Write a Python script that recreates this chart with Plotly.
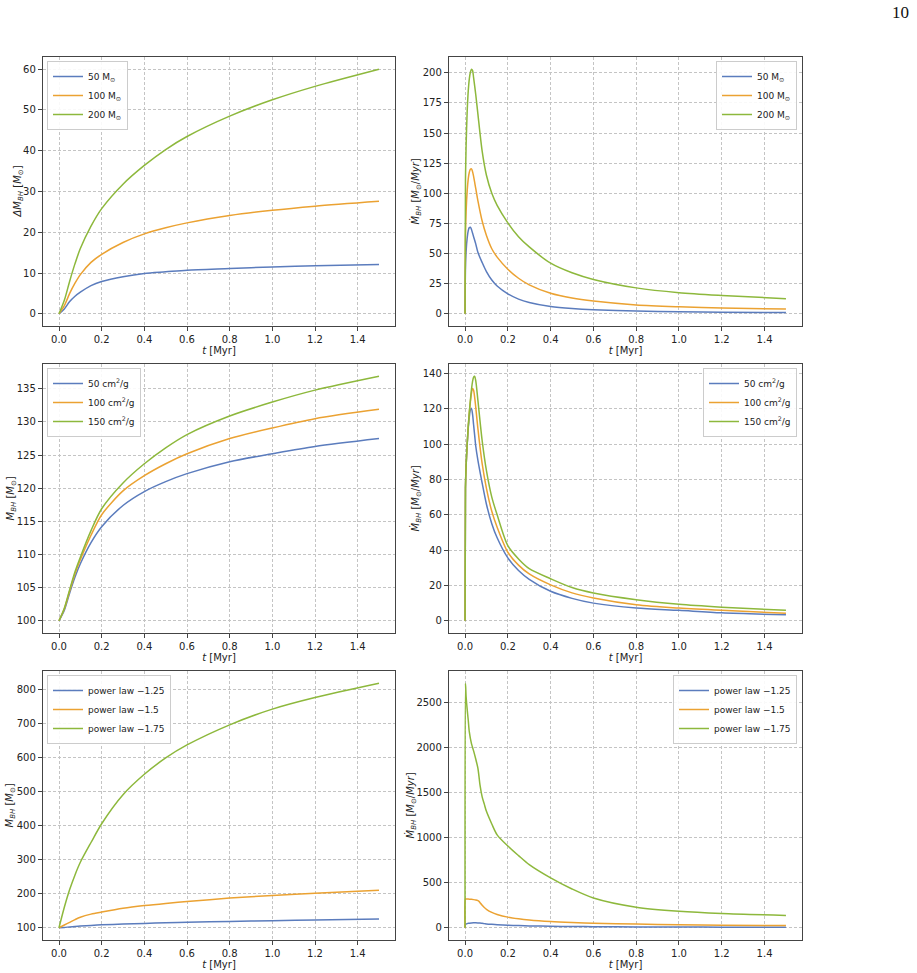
import plotly.graph_objects as go

# ---------------- data ----------------
names_mass = ["50 M<sub>⊙</sub>", "100 M<sub>⊙</sub>", "200 M<sub>⊙</sub>"]
names_xs = ["50 cm<sup>2</sup>/g", "100 cm<sup>2</sup>/g", "150 cm<sup>2</sup>/g"]
names_pl = ["power law −1.25", "power law −1.5", "power law −1.75"]

# Panel 1: Delta M_BH vs t (BH mass variations)
t_p1 = [0, 0.025, 0.05, 0.075, 0.1, 0.15, 0.2, 0.3, 0.4, 0.5, 0.6, 0.8, 1.0, 1.2, 1.5]
dm_50 = [0, 1.2, 3.0, 4.3, 5.3, 6.9, 7.9, 9.1, 9.9, 10.3, 10.7, 11.1, 11.5, 11.8, 12.1]
dm_100 = [0, 2.0, 5.0, 7.5, 9.6, 12.6, 14.6, 17.5, 19.6, 21.1, 22.3, 24.1, 25.4, 26.4, 27.6]
dm_200 = [0, 3.3, 8.0, 12.3, 16.0, 21.5, 25.8, 31.8, 36.4, 40.3, 43.5, 48.5, 52.5, 55.8, 60.0]

# Panel 2: accretion rate (BH mass variations)
t_p2 = [0, 0.002, 0.005, 0.01, 0.015, 0.02, 0.025, 0.03, 0.035, 0.04, 0.05, 0.06, 0.08,
        0.1, 0.125, 0.15, 0.2, 0.25, 0.3, 0.4, 0.5, 0.6, 0.8, 1.0, 1.2, 1.5]
md_50 = [0, 38, 52, 63, 69, 71.5, 71.8, 70, 67, 64, 58, 51, 42.5, 35, 28, 23, 16.5,
         12.2, 9.4, 6.0, 4.3, 3.3, 2.3, 1.7, 1.3, 1.0]
md_100 = [0, 65, 85, 102, 112, 117.5, 120, 120.3, 118, 114, 104, 94, 77, 65, 54, 47, 37,
          29.5, 24, 17, 13, 10.5, 7.3, 5.8, 4.8, 3.9]
md_200 = [0, 110, 140, 168, 185, 195, 200.5, 203, 202, 196, 182, 166, 135, 115, 100, 90, 75.5,
          64, 55.5, 42, 34, 28.5, 21.5, 17.5, 15.2, 12.5]

# Panel 3: M_BH vs t (cross-section variations)
t_p3 = [0, 0.025, 0.05, 0.075, 0.1, 0.15, 0.2, 0.3, 0.4, 0.5, 0.6, 0.8, 1.0, 1.2, 1.5]
m_xs50 = [100, 101.6, 104.2, 106.6, 108.6, 111.8, 114.2, 117.4, 119.5, 121.0, 122.2, 124.0, 125.2, 126.3, 127.5]
m_xs100 = [100, 101.8, 104.5, 107.1, 109.2, 112.9, 116.0, 119.6, 121.9, 123.7, 125.2, 127.5, 129.1, 130.5, 131.9]
m_xs150 = [100, 101.9, 104.7, 107.4, 109.6, 113.6, 116.9, 120.8, 123.7, 126.1, 128.1, 130.9, 133.0, 134.8, 136.9]

# Panel 4: accretion rate (cross-section variations)
t_p4 = [0, 0.002, 0.005, 0.01, 0.015, 0.02, 0.025, 0.03, 0.035, 0.04, 0.045, 0.05, 0.06, 0.08,
        0.1, 0.125, 0.15, 0.2, 0.25, 0.3, 0.4, 0.5, 0.6, 0.8, 1.0, 1.2, 1.5]
md_xs50 = [0, 75, 88, 100, 109, 115.5, 119.5, 120.3, 117, 111, 105, 99, 91, 78,
           66, 55, 47, 35.6, 28.5, 23.5, 16.7, 12.7, 10, 7.2, 5.9, 4.5, 3.4]
md_xs100 = [0, 75, 88, 100, 110, 118, 124, 129, 131.5, 130.5, 126.5, 121, 109, 89,
            75, 62, 53, 38.8, 31.5, 26.5, 20.3, 15.8, 12.9, 9.1, 7.2, 5.9, 4.3]
md_xs150 = [0, 75, 88, 100, 110, 118, 125, 131, 135.5, 138, 138.5, 136, 125, 102,
            85, 70, 60, 42.5, 35, 29.5, 23.8, 18.8, 15.7, 11.9, 9.3, 7.7, 5.9]

# Panel 5: M_BH vs t (power-law variations)
t_p5 = [0, 0.025, 0.05, 0.075, 0.1, 0.15, 0.2, 0.3, 0.4, 0.5, 0.6, 0.8, 1.0, 1.2, 1.5]
m_pl125 = [100, 101.1, 102.5, 103.8, 105, 107, 108.6, 110.8, 112.8, 114.5, 116, 118.6, 120.8, 122.8, 125.5]
m_pl150 = [100, 108, 116, 124, 131, 140, 146, 157, 165, 171.5, 177, 187, 194.5, 201, 210]
m_pl175 = [100, 160, 212, 255, 292, 350, 405, 490, 550, 598, 636, 695, 741, 775, 817]

# Panel 6: accretion rate (power-law variations)
t_p6 = [0, 0.002, 0.005, 0.01, 0.015, 0.02, 0.03, 0.04, 0.05, 0.06, 0.065, 0.07, 0.08, 0.09,
        0.1, 0.125, 0.15, 0.2, 0.25, 0.3, 0.4, 0.5, 0.6, 0.8, 1.0, 1.2, 1.5]
md_pl125 = [0, 38, 42, 46, 49, 51, 54, 55, 55, 54, 53, 52, 49, 46,
            43, 38, 34, 28, 24, 21, 17, 14, 12, 9.5, 8, 7, 6]
md_pl150 = [0, 320, 320, 319, 318, 317, 315, 312, 308, 300, 292, 278, 250, 225,
            205, 170, 148, 118, 100, 87, 70, 59, 51, 41, 34, 29, 24]
md_pl175 = [0, 2710, 2560, 2420, 2300, 2170, 2040, 1960, 1870, 1770, 1680, 1580, 1450, 1370,
            1290, 1150, 1030, 906, 800, 700, 553, 430, 330, 228, 183, 158, 137]

x_ticks = [0.0, 0.2, 0.4, 0.6, 0.8, 1.0, 1.2, 1.4]

# ---------------- layout helpers ----------------
W, H = 917, 973
colors = ["#5b7cbd", "#eba232", "#8db83c"]
FONT = "DejaVu Sans"

cols_px = [(43, 395), (449, 802)]
rows_px = [(57, 326), (364, 633), (671, 940)]

ytitle_mdot = "<i>Ṁ</i><sub><i>BH</i></sub> [<i>M</i><sub>⊙</sub>/<i>Myr</i>]"
ytitle_m = "<i>M</i><sub><i>BH</i></sub> [<i>M</i><sub>⊙</sub>]"
ytitle_dm = "<i>ΔM</i><sub><i>BH</i></sub> [<i>M</i><sub>⊙</sub>]"

panels = [
    dict(t=t_p1, ys=[dm_50, dm_100, dm_200], names=names_mass, ytitle=ytitle_dm, dtick=10, leg="left", ytx=18),
    dict(t=t_p2, ys=[md_50, md_100, md_200], names=names_mass, ytitle=ytitle_mdot, dtick=25, leg="right", ytx=415),
    dict(t=t_p3, ys=[m_xs50, m_xs100, m_xs150], names=names_xs, ytitle=ytitle_m, dtick=5, leg="left", ytx=11),
    dict(t=t_p4, ys=[md_xs50, md_xs100, md_xs150], names=names_xs, ytitle=ytitle_mdot, dtick=20, leg="right", ytx=415),
    dict(t=t_p5, ys=[m_pl125, m_pl150, m_pl175], names=names_pl, ytitle=ytitle_m, dtick=100, leg="left", ytx=10),
    dict(t=t_p6, ys=[md_pl125, md_pl150, md_pl175], names=names_pl, ytitle=ytitle_mdot, dtick=500, leg="right", ytx=410),
]

fig = go.Figure()
layout = dict(
    width=W, height=H,
    margin=dict(l=0, r=0, t=0, b=0),
    paper_bgcolor="white", plot_bgcolor="white",
    font=dict(family=FONT, size=10, color="#222"),
)

axis_common = dict(
    showline=True, mirror=True, linecolor="#444", linewidth=1.3,
    ticks="outside", ticklen=4, tickwidth=1, tickcolor="#444",
    showgrid=True, gridcolor="#c4c4c4", gridwidth=0.8, griddash="3px,2px",
    zeroline=False, tickfont=dict(family=FONT, size=10, color="#222"),
)

annotations = []
for i, p in enumerate(panels):
    n = i + 1
    r, c = divmod(i, 2)
    x0, x1 = cols_px[c]
    ytop, ybot = rows_px[r]
    xs = "" if n == 1 else str(n)
    legname = "legend" if n == 1 else f"legend{n}"

    for k in range(3):
        fig.add_trace(go.Scatter(
            x=p["t"], y=p["ys"][k], mode="lines", name=p["names"][k],
            line=dict(color=colors[k], width=1.5, shape="spline", smoothing=0.8),
            xaxis="x" + xs, yaxis="y" + xs, legend=legname,
        ))

    allv = [v for s in p["ys"] for v in s]
    lo, hi = min(allv), max(allv)
    pad = 0.05 * (hi - lo)
    tmin, tmax = min(p["t"]), max(p["t"])
    tpad = 0.05 * (tmax - tmin)

    layout["xaxis" + xs] = dict(
        axis_common,
        domain=[x0 / W, x1 / W], anchor="y" + xs,
        range=[tmin - tpad, tmax + tpad],
        tickmode="array", tickvals=x_ticks, ticktext=[f"{v:.1f}" for v in x_ticks],
        title=dict(text="<i>t</i> [Myr]", font=dict(family=FONT, size=10, color="#222"), standoff=0),
    )
    layout["yaxis" + xs] = dict(
        axis_common,
        domain=[1 - ybot / H, 1 - ytop / H], anchor="x" + xs,
        range=[lo - pad, hi + pad], dtick=p["dtick"], tick0=0,
    )
    # y-axis title (placed as rotated text beside the axis)
    annotations.append(dict(
        text=p["ytitle"], x=p["ytx"] / W, y=1 - (ytop + ybot) / 2 / H,
        xref="paper", yref="paper", xanchor="center", yanchor="middle",
        textangle=-90, showarrow=False,
        font=dict(family=FONT, size=10, color="#222"),
    ))
    if p["leg"] == "left":
        lx, xanchor = (x0 + 4) / W, "left"
    else:
        lx, xanchor = (x1 - 5) / W, "right"
    layout[legname] = dict(
        x=lx, xanchor=xanchor, y=1 - (ytop + 4) / H, yanchor="top",
        bgcolor="rgba(255,255,255,0.9)", bordercolor="#cccccc", borderwidth=1,
        font=dict(family=FONT, size=9, color="#222"),
        itemwidth=30, tracegroupgap=0,
    )

annotations.append(dict(
    text="10", x=911 / W, y=1 - 13 / H, xref="paper", yref="paper",
    xanchor="right", yanchor="middle", showarrow=False,
    font=dict(family="Liberation Serif", size=17, color="#111"),
))
layout["annotations"] = annotations

fig.update_layout(**layout)
fig.write_html("out.html")
